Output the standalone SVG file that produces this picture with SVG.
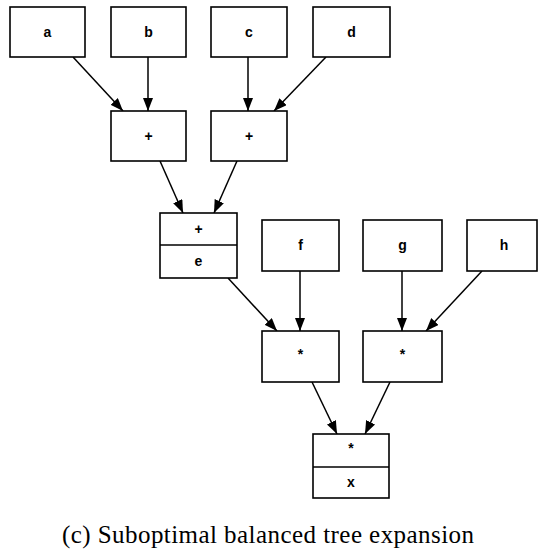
<svg xmlns="http://www.w3.org/2000/svg" width="538" height="554" viewBox="0 0 538 554">
  <style>
    .box { fill: #fff; stroke: #000; stroke-width: 1.6; }
    .lbl { font-family: "Liberation Sans", Arial, sans-serif; font-weight: bold; font-size: 14px; text-anchor: middle; fill: #000; }
    .edge { stroke: #000; stroke-width: 1.5; fill: none; marker-end: url(#arrow); }
    .cap { font-family: "Liberation Serif", "Times New Roman", serif; font-size: 25px; fill: #000; }
  </style>
  <defs>
    <marker id="arrow" viewBox="0 0 13 10" refX="13" refY="5" markerWidth="13" markerHeight="10" markerUnits="userSpaceOnUse" orient="auto">
      <path d="M0,0 L13,5 L0,10 Z" fill="#000"/>
    </marker>
  </defs>

  <!-- connectors -->
  <g id="edges">
    <line class="edge" x1="73" y1="57" x2="123" y2="111"/>
    <line class="edge" x1="148" y1="57" x2="148" y2="111"/>
    <line class="edge" x1="248" y1="57" x2="248" y2="111"/>
    <line class="edge" x1="326" y1="57" x2="274" y2="111"/>
    <line class="edge" x1="160" y1="161" x2="183" y2="213"/>
    <line class="edge" x1="237" y1="161" x2="214" y2="213"/>
    <line class="edge" x1="228" y1="278" x2="277" y2="331"/>
    <line class="edge" x1="300" y1="271" x2="300" y2="331"/>
    <line class="edge" x1="402" y1="271" x2="402" y2="331"/>
    <line class="edge" x1="482" y1="271" x2="426" y2="331"/>
    <line class="edge" x1="312" y1="382" x2="337" y2="434"/>
    <line class="edge" x1="390" y1="382" x2="365" y2="434"/>
  </g>

  <!-- leaf operands -->
  <g id="a"><rect class="box" x="10" y="7" width="75" height="50"/><text class="lbl" x="47.5" y="37">a</text></g>
  <g id="b"><rect class="box" x="111" y="7" width="75" height="50"/><text class="lbl" x="148.5" y="37">b</text></g>
  <g id="c"><rect class="box" x="211" y="7" width="76" height="50"/><text class="lbl" x="249" y="37">c</text></g>
  <g id="d"><rect class="box" x="313" y="7" width="77" height="50"/><text class="lbl" x="351.5" y="37">d</text></g>

  <!-- first-level sums -->
  <g id="plus1"><rect class="box" x="111" y="111" width="75" height="50"/><text class="lbl" x="148.5" y="141">+</text></g>
  <g id="plus2"><rect class="box" x="211" y="111" width="76" height="50"/><text class="lbl" x="249" y="141">+</text></g>

  <!-- sum node assigned to e -->
  <g id="e">
    <rect class="box" x="160" y="213" width="77" height="65"/>
    <line x1="160" y1="245" x2="237" y2="245" stroke="#000" stroke-width="1.6"/>
    <text class="lbl" x="198.5" y="234">+</text>
    <text class="lbl" x="198.5" y="266">e</text>
  </g>

  <g id="f"><rect class="box" x="262" y="220" width="77" height="51"/><text class="lbl" x="300.5" y="250">f</text></g>
  <g id="g"><rect class="box" x="363" y="220" width="79" height="51"/><text class="lbl" x="402.5" y="250">g</text></g>
  <g id="h"><rect class="box" x="467" y="220" width="70" height="51"/><text class="lbl" x="504" y="250">h</text></g>

  <!-- products -->
  <g id="mul1"><rect class="box" x="262" y="331" width="77" height="51"/><text class="lbl" x="300.5" y="359">*</text></g>
  <g id="mul2"><rect class="box" x="363" y="331" width="79" height="51"/><text class="lbl" x="402.5" y="359">*</text></g>

  <!-- root product assigned to x -->
  <g id="x">
    <rect class="box" x="313" y="434" width="76" height="64"/>
    <line x1="313" y1="467" x2="389" y2="467" stroke="#000" stroke-width="1.6"/>
    <text class="lbl" x="351" y="453">*</text>
    <text class="lbl" x="351" y="487">x</text>
  </g>

  <text class="cap" x="62" y="543" textLength="412" lengthAdjust="spacing">(c) Suboptimal balanced tree expansion</text>
</svg>
